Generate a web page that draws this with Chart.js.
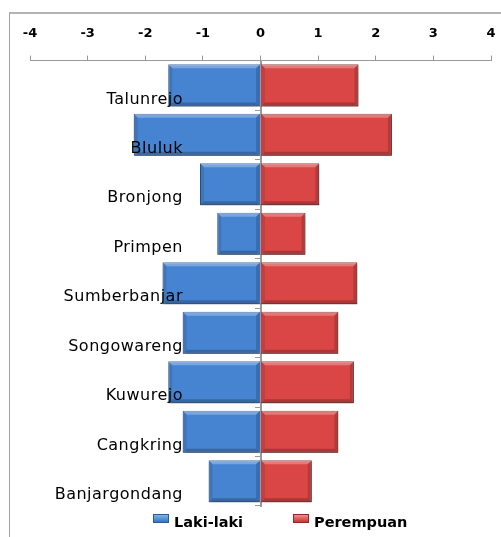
<!DOCTYPE html>
<html>
<head>
<meta charset="utf-8">
<script src="https://cdn.jsdelivr.net/npm/chart.js@4"></script>
<style>
  body { margin: 0; background: #fff; }
  #wrap { position: relative; width: 501px; height: 537px; overflow: hidden; }
  #frame { position: absolute; left: 9px; top: 12px; width: 600px; height: 600px;
           border-left: 1px solid #a0a0a0; border-top: 2px solid #b4b4b4; }
  canvas { position: absolute; left: 0; top: 0; }
  #legend { position: absolute; top: 514px; left: 0; width: 501px; font: bold 14.5px "DejaVu Sans", sans-serif; color: #000; }
  .item { position: absolute; top: 0; }
  .box { display: inline-block; width: 14px; height: 7px; margin-right: 5px; vertical-align: 4px; }
</style>
</head>
<body>
<div id="wrap">
  <div id="frame"></div>
  <canvas id="pyramid" width="501" height="537"></canvas>
  <div id="legend">
    <span class="item" style="left:153px"><span class="box" style="background:linear-gradient(#7ab4f0,#3a74c0);border:1px solid #2c5a98"></span>Laki-laki</span>
    <span class="item" style="left:293px"><span class="box" style="background:linear-gradient(#f58a8a,#c83636);border:1px solid #962626"></span>Perempuan</span>
  </div>
</div>
<script>
// Data
const categories = ["Talunrejo", "Bluluk", "Bronjong", "Primpen", "Sumberbanjar", "Songowareng", "Kuwurejo", "Cangkring", "Banjargondang"];
const lakiLaki = [-1.6, -2.2, -1.05, -0.75, -1.7, -1.35, -1.6, -1.35, -0.9];
const perempuan = [1.7, 2.28, 1.02, 0.78, 1.68, 1.35, 1.62, 1.35, 0.89];
const xTicks = [-4, -3, -2, -1, 0, 1, 2, 3, 4];

// vertical gradient per bar, like the Excel bevel look
function barFill(light, mid, low, dark) {
    return ctx => {
        const el = ctx.element;
        if (!el || el.y === undefined) return mid;
        const h = el.height || 40;
        const top = el.y - h / 2;
        const g = ctx.chart.ctx.createLinearGradient(0, top, 0, top + h);
        g.addColorStop(0, light);
        g.addColorStop(0.12, mid);
        g.addColorStop(0.88, low);
        g.addColorStop(1, dark);
        return g;
    };
}

// keep the scales from adding their own label overhang to the layout
function noScalePadding(scale) {
    scale.paddingLeft = 0;
    scale.paddingRight = 0;
    scale.paddingTop = 0;
    scale.paddingBottom = 0;
}

// chamfered edges on each bar (light top, darker sides and bottom)
const bevel = {
    id: "bevel",
    afterDatasetsDraw(chart) {
        const c = chart.ctx;
        const b = 4;
        c.save();
        chart.data.datasets.forEach((ds, di) => {
            chart.getDatasetMeta(di).data.forEach(bar => {
                const l = Math.min(bar.x, bar.base), r = Math.max(bar.x, bar.base);
                const t = bar.y - bar.height / 2, btm = bar.y + bar.height / 2;
                const quad = (pts, col) => {
                    c.beginPath();
                    c.moveTo(pts[0][0], pts[0][1]);
                    pts.slice(1).forEach(p => c.lineTo(p[0], p[1]));
                    c.closePath();
                    c.fillStyle = col;
                    c.fill();
                };
                quad([[l, t], [r, t], [r - b, t + b], [l + b, t + b]], "rgba(255,255,255,0.28)");
                quad([[l, btm], [r, btm], [r - b, btm - b], [l + b, btm - b]], "rgba(0,0,0,0.22)");
                quad([[l, t], [l + b, t + b], [l + b, btm - b], [l, btm]], "rgba(0,0,0,0.10)");
                quad([[r, t], [r - b, t + b], [r - b, btm - b], [r, btm]], "rgba(0,0,0,0.16)");
            });
        });
        c.restore();
    }
};

// category names sit left of the zero line, a bit below the band centre
const categoryLabels = {
    id: "categoryLabels",
    afterDatasetsDraw(chart) {
        const c = chart.ctx;
        const xs = chart.scales.x, ys = chart.scales.y;
        const right = xs.getPixelForValue(0) - 77.5;
        c.save();
        c.font = "16px 'DejaVu Sans', sans-serif";
        c.letterSpacing = "0.5px";
        c.fillStyle = "#000";
        c.textAlign = "right";
        c.textBaseline = "middle";
        categories.forEach((name, i) => {
            c.fillText(name, right, ys.getPixelForValue(i) + 14);
        });
        c.restore();
    }
};

// soft shadow under the bars
const barShadow = {
    id: "barShadow",
    beforeDatasetsDraw(chart) {
        const c = chart.ctx;
        c.save();
        c.shadowColor = "rgba(0,0,0,0.35)";
        c.shadowBlur = 4;
        c.shadowOffsetX = 1;
        c.shadowOffsetY = 2;
    },
    afterDatasetsDraw(chart) {
        chart.ctx.restore();
    }
};

new Chart(document.getElementById("pyramid"), {
    type: "bar",
    data: {
        labels: categories,
        datasets: [{
            label: "Laki-laki",
            data: lakiLaki,
            backgroundColor: barFill("#8cc2f7", "#4684d2", "#3a6fbb", "#2a5590"),
            borderColor: "#2f5f9e",
            borderWidth: 1,
            barPercentage: 0.85,
            categoryPercentage: 1
        }, {
            label: "Perempuan",
            data: perempuan,
            backgroundColor: barFill("#f79696", "#da4646", "#c53a3a", "#8e2222"),
            borderColor: "#8e2626",
            borderWidth: 1,
            barPercentage: 0.85,
            categoryPercentage: 1
        }]
    },
    options: {
        indexAxis: "y",
        responsive: false,
        animation: false,
        layout: { padding: { left: 30, right: 10, top: 12, bottom: 31 } },
        plugins: {
            legend: { display: false },
            tooltip: { enabled: false }
        },
        scales: {
            x: {
                position: "top",
                stacked: true,
                min: -4,
                max: 4,
                afterBuildTicks: axis => { axis.ticks = xTicks.map(v => ({ value: v })); },
                afterFit: noScalePadding,
                ticks: {
                    font: { family: "'DejaVu Sans', sans-serif", size: 13, weight: "bold" },
                    color: "#000",
                    padding: 14
                },
                grid: { drawOnChartArea: false, tickLength: 5, color: "#999" },
                border: { color: "#999", width: 1 }
            },
            y: {
                position: { x: 0 },
                stacked: true,
                afterFit: noScalePadding,
                ticks: { display: false },
                grid: { drawOnChartArea: false, tickLength: 5, color: "#999", offset: true },
                border: { color: "#999", width: 2 }
            }
        }
    },
    plugins: [barShadow, bevel, categoryLabels]
});
</script>
</body>
</html>
